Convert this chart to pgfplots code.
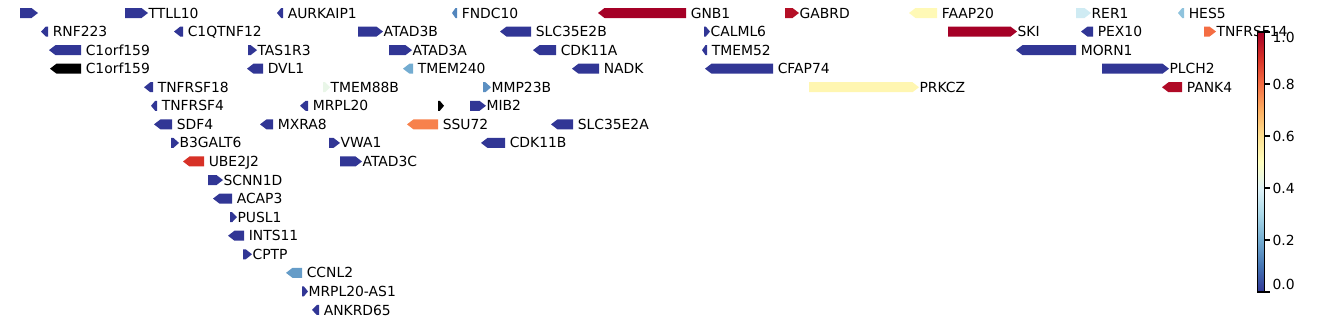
\documentclass[border=0pt]{standalone}
\usepackage{fontspec}
\setmainfont{DejaVu Sans}
\usepackage{pgfplots}
\usepackage{pgfplotstable}
\pgfplotsset{compat=1.18}
\pgfplotsset{colormap={RdYlBuR}{rgb255=(49,54,149) rgb255=(69,117,180) rgb255=(116,173,209) rgb255=(171,217,233) rgb255=(224,243,248) rgb255=(255,255,191) rgb255=(254,224,144) rgb255=(253,174,97) rgb255=(244,109,67) rgb255=(215,48,39) rgb255=(165,0,38)}}
% s = start, e = end (pixels), r = row, d = strand, v = value (-1 = no value, black)
\pgfplotstableread{
s e r d v lab
20 38 0 1 0 {}
125 148 0 1 0 TTLL10
277 283 0 -1 0 AURKAIP1
452 457 0 -1 0.13 FNDC10
598 686 0 -1 1.0 GNB1
785 799 0 1 0.97 GABRD
909 937 0 -1 0.52 FAAP20
1076 1091 0 1 0.37 RER1
1178 1184 0 -1 0.25 HES5
41 48 1 -1 0 RNF223
174 183 1 -1 0 C1QTNF12
358 383 1 1 0 ATAD3B
500 531 1 -1 0 SLC35E2B
704 710 1 1 0 CALML6
948 1017 1 1 1.0 SKI
1081 1093 1 -1 0 PEX10
1204 1216 1 1 0.8 TNFRSF14
49 81 2 -1 0 C1orf159
248 257 2 1 0 TAS1R3
389 412 2 1 0 ATAD3A
533 556 2 -1 0 CDK11A
702 707 2 -1 0 TMEM52
1016 1076 2 -1 0 MORN1
50 81 3 -1 -1 C1orf159
247 263 3 -1 0 DVL1
403 413 3 -1 0.2 TMEM240
572 599 3 -1 0 NADK
705 773 3 -1 0 CFAP74
1102 1169 3 1 0 PLCH2
144 153 4 -1 0 TNFRSF18
323 330 4 1 0.43 TMEM88B
483 491 4 1 0.15 MMP23B
809 919 4 1 0.53 PRKCZ
1162 1182 4 -1 0.98 PANK4
151 157 5 -1 0 TNFRSF4
300 308 5 -1 0 MRPL20
438 444 5 1 -1 {}
470 486 5 1 0 MIB2
154 172 6 -1 0 SDF4
260 273 6 -1 0 MXRA8
407 438 6 -1 0.77 SSU72
551 573 6 -1 0 SLC35E2A
171 179 7 1 0 B3GALT6
329 340 7 1 0 VWA1
481 505 7 -1 0 CDK11B
183 204 8 -1 0.9 UBE2J2
340 362 8 1 0 ATAD3C
208 223 9 1 0 SCNN1D
213 232 10 -1 0 ACAP3
230 237 11 1 0 PUSL1
228 244 12 -1 0 INTS11
243 252 13 1 0 CPTP
286 302 14 -1 0.17 CCNL2
302 308 15 1 0 MRPL20-AS1
312 319 16 -1 0 ANKRD65
}\genes
\begin{document}
\begin{tikzpicture}
\begin{axis}[
  at={(0,0)}, anchor=south west,
  scale only axis, width=963.36pt, height=233.28pt,
  xmin=0, xmax=1338, ymin=0, ymax=324, y dir=reverse,
  axis lines=none, xtick=\empty, ytick=\empty,
  clip=false,
  colormap name=RdYlBuR,
  colorbar,
  point meta min=0, point meta max=1,
  colorbar style={
    at={(parent axis.north west)}, anchor=north west,
    xshift=897.12pt, yshift=-23.04pt,
    scale only axis, width=5.04pt, height=187.2pt,
    axis lines=box,
    ytick={0,0.2,0.4,0.6,0.8,1},
    yticklabels={\raisebox{5.6pt}{0.0},0.2,0.4,0.6,0.8,\raisebox{-3.7pt}{1.0}},
    yticklabel pos=right, ytick pos=right,
    tick align=outside, major tick length=3.5pt,
    yticklabel style={anchor=base west, yshift=-3.65pt, xshift=-1.44pt},
    axis line style={line width=0.8pt},
    every tick/.style={line width=0.8pt, black},
  },
]
\path (rel axis cs:0,0) rectangle (rel axis cs:1,1);
\pgfplotstablegetrowsof{\genes}
\pgfmathtruncatemacro\Nlast{\pgfplotsretval-1}
\pgfplotsforeachungrouped \i in {0,...,\Nlast}{%
  \pgfplotstablegetelem{\i}{s}\of\genes \pgfmathsetmacro\gS{\pgfplotsretval}%
  \pgfplotstablegetelem{\i}{e}\of\genes \pgfmathsetmacro\gE{\pgfplotsretval}%
  \pgfplotstablegetelem{\i}{r}\of\genes \pgfmathsetmacro\gY{13+18.56*\pgfplotsretval}%
  \pgfplotstablegetelem{\i}{d}\of\genes \pgfmathtruncatemacro\gD{\pgfplotsretval}%
  \pgfplotstablegetelem{\i}{v}\of\genes \pgfmathsetmacro\gV{\pgfplotsretval}%
  \pgfplotstablegetelem{\i}{lab}\of\genes \let\gL\pgfplotsretval
  \pgfmathsetmacro\gH{min(6.5,0.7*(\gE-\gS))}%
  \pgfmathsetmacro\yT{\gY-5}\pgfmathsetmacro\yB{\gY+5}%
  \ifnum\gD>0
    \pgfmathsetmacro\xK{\gE-\gH}%
    \edef\poly{(\gS,\yT) (\xK,\yT) (\gE,\gY) (\xK,\yB) (\gS,\yB) (\gS,\yT)}%
    \pgfmathsetmacro\xL{\gE+0.3}%
  \else
    \pgfmathsetmacro\xK{\gS+\gH}%
    \edef\poly{(\gE,\yT) (\xK,\yT) (\gS,\gY) (\xK,\yB) (\gE,\yB) (\gE,\yT)}%
    \pgfmathsetmacro\xL{\gE+4.5}%
  \fi
  \ifdim\gV pt<0pt
    \xglobal\colorlet{gc\i}{black}%
  \else
    \pgfmathtruncatemacro\gM{1000*\gV}%
    \pgfplotscolormapdefinemappedcolor{\gM}%
    \xglobal\colorlet{gc\i}{mapped color}%
  \fi
  \pgfmathsetmacro\yL{\gY+5.05}%
  \edef\cmd{\noexpand\addplot[fill=gc\i, draw=none, forget plot] coordinates {\poly};
     \noexpand\node[anchor=base west, inner sep=0pt] at (axis cs:\xL,\yL) {\gL};}%
  \cmd
}
\end{axis}
\end{tikzpicture}
\end{document}
